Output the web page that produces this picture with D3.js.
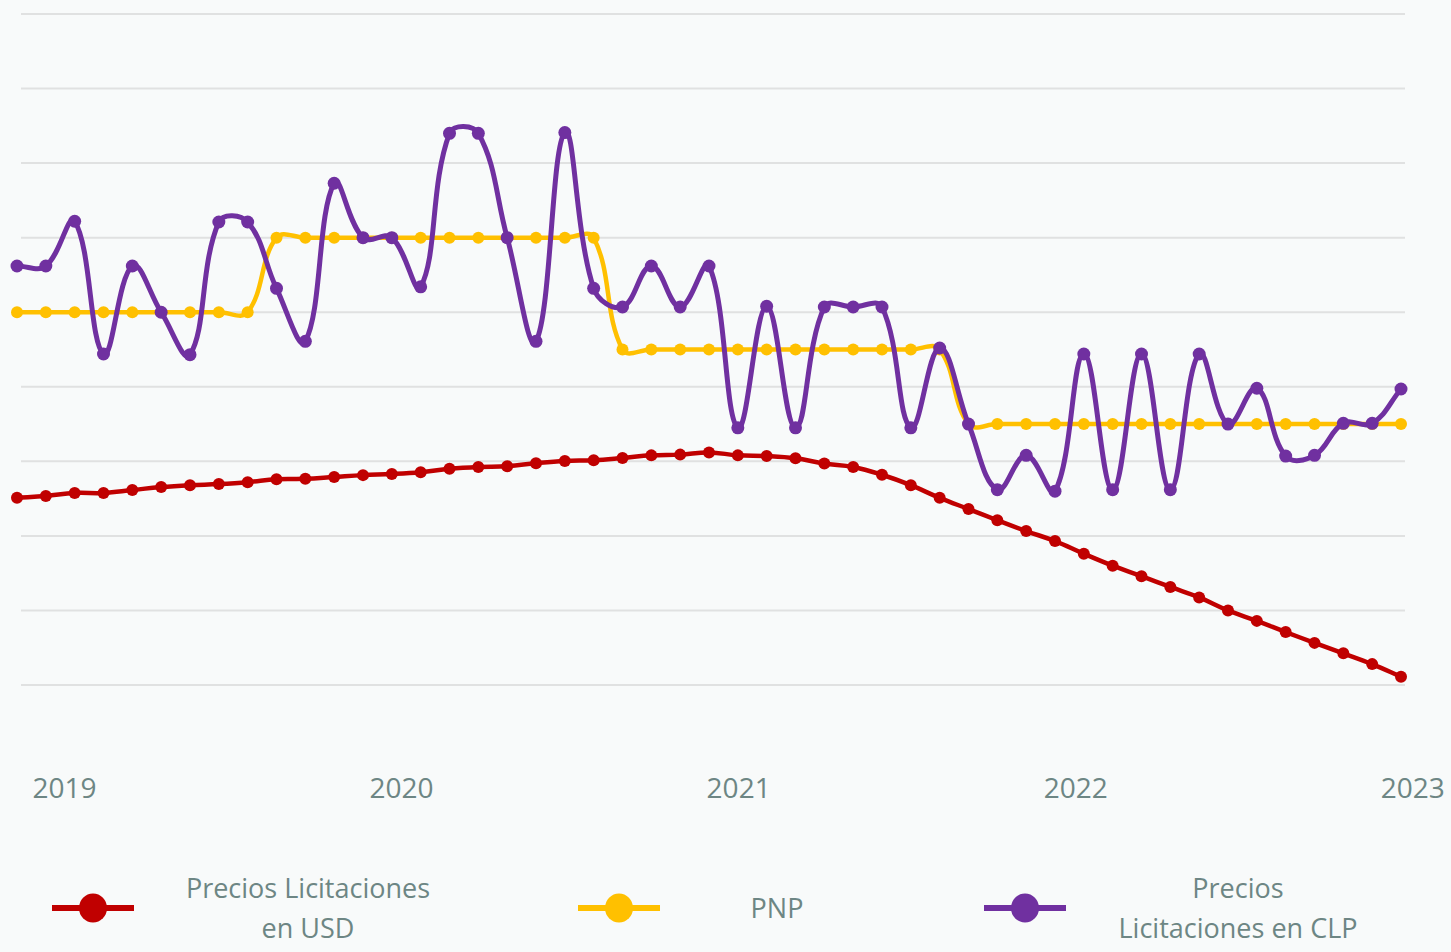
<!DOCTYPE html>
<html>
<head>
<meta charset="utf-8">
<script src="https://cdn.jsdelivr.net/npm/d3@7"></script>
<style>
  html, body { margin: 0; padding: 0; background: #f8fafa; }
  svg { display: block; }
  text { font-family: "Open Sans", sans-serif; fill: #6d8684; }
</style>
</head>
<body>
<svg id="chart" width="1451" height="952"></svg>
<script>
// ---- data ----
const yearLabels = ["2019", "2020", "2021", "2022", "2023"];
const yearPositions = [1.63, 13.32, 25.01, 36.70, 48.39]; // in month-index units

const usd = [25.1, 25.35, 25.75, 25.75, 26.15, 26.55, 26.8, 26.95, 27.2, 27.6,
  27.65, 27.9, 28.15, 28.3, 28.55, 29.0, 29.25, 29.35, 29.75, 30.05,
  30.15, 30.45, 30.8, 30.9, 31.2, 30.8, 30.7, 30.4, 29.7, 29.25,
  28.2, 26.8, 25.1, 23.6, 22.1, 20.65, 19.3, 17.6, 16.0, 14.6,
  13.15, 11.75, 10.0, 8.6, 7.1, 5.65, 4.25, 2.8, 1.1];

const pnp = [50, 50, 50, 50, 50, 50, 50, 50, 50, 60,
  60, 60, 60, 60, 60, 60, 60, 60, 60, 60,
  60, 45, 45, 45, 45, 45, 45, 45, 45, 45,
  45, 45, 45, 35, 35, 35, 35, 35, 35, 35,
  35, 35, 35, 35, 35, 35, 35, 35, 35];

const clp = [56.2, 56.2, 62.2, 44.4, 56.2, 50, 44.3, 62.1, 62.1, 53.2,
  46.1, 67.3, 60, 60, 53.4, 74, 74, 60, 46.1, 74.1,
  53.2, 50.7, 56.2, 50.7, 56.2, 34.5, 50.8, 34.5, 50.7, 50.7,
  50.7, 34.5, 45.2, 35, 26.2, 30.8, 26, 44.4, 26.2, 44.4,
  26.2, 44.4, 35, 39.8, 30.7, 30.8, 35.1, 35.1, 39.7];

const gridValues = [0, 10, 20, 30, 40, 50, 60, 70, 80, 90];

const seriesNames = [["Precios Licitaciones", "en USD"], ["PNP"], ["Precios", "Licitaciones en CLP"]];
const seriesColors = ["#c00000", "#ffc000", "#7030a0"];

// ---- custom smoothing curve (distance-weighted spline) ----
function SplineCurve(context, tension) {
  this._context = context;
  this._t = tension;
}
SplineCurve.prototype = {
  areaStart() { this._line = 0; },
  areaEnd() { this._line = NaN; },
  lineStart() { this._pts = []; },
  point(x, y) { this._pts.push([+x, +y]); },
  lineEnd() {
    const p = this._pts, n = p.length, ctx = this._context, t = this._t;
    if (!n) return;
    const cpPrev = [], cpNext = [];
    for (let i = 0; i < n; i++) {
      const cur = p[i], prev = p[i - 1] || cur, next = p[i + 1] || cur;
      const d01 = Math.hypot(cur[0] - prev[0], cur[1] - prev[1]);
      const d12 = Math.hypot(next[0] - cur[0], next[1] - cur[1]);
      let s01 = d01 / (d01 + d12), s12 = d12 / (d01 + d12);
      if (!isFinite(s01)) s01 = 0;
      if (!isFinite(s12)) s12 = 0;
      const fa = t * s01, fb = t * s12;
      cpPrev.push([cur[0] - fa * (next[0] - prev[0]), cur[1] - fa * (next[1] - prev[1])]);
      cpNext.push([cur[0] + fb * (next[0] - prev[0]), cur[1] + fb * (next[1] - prev[1])]);
    }
    ctx.moveTo(p[0][0], p[0][1]);
    for (let i = 1; i < n; i++) {
      ctx.bezierCurveTo(cpNext[i - 1][0], cpNext[i - 1][1], cpPrev[i][0], cpPrev[i][1], p[i][0], p[i][1]);
    }
  }
};
const curveSpline = tension => context => new SplineCurve(context, tension);

// ---- chart ----
const svg = d3.select("#chart");
const x = d3.scaleLinear().domain([0, usd.length - 1]).range([17, 1401]);
const y = d3.scaleLinear().domain([0, 90]).range([685, 14]);

// gridlines
svg.append("g")
  .selectAll("line")
  .data(gridValues)
  .join("line")
  .attr("x1", 21).attr("x2", 1405)
  .attr("y1", d => y(d)).attr("y2", d => y(d))
  .attr("stroke", "#e0e1e1")
  .attr("stroke-width", 2);

// x axis labels
const xAxis = d3.axisBottom(x)
  .tickValues(yearPositions)
  .tickFormat((d, i) => yearLabels[i])
  .tickSize(0)
  .tickPadding(0);
const gx = svg.append("g").attr("transform", "translate(0,778)").call(xAxis);
gx.select(".domain").remove();
gx.selectAll("text")
  .attr("dy", "0.71em")
  .style("font-family", "'Open Sans', sans-serif")
  .style("font-size", "28px")
  .attr("fill", "#6d8684");

const line = d3.line()
  .x((d, i) => x(i))
  .y(d => y(d))
  .curve(curveSpline(0.4));

const allSeries = [
  { data: usd, color: seriesColors[0], width: 4.5, r: 6 },
  { data: pnp, color: seriesColors[1], width: 4.5, r: 6 },
  { data: clp, color: seriesColors[2], width: 5, r: 6.5 }
];

allSeries.forEach(s => {
  const g = svg.append("g");
  g.append("path")
    .datum(s.data)
    .attr("d", line)
    .attr("fill", "none")
    .attr("stroke", s.color)
    .attr("stroke-width", s.width)
    .attr("stroke-linejoin", "round");
  g.selectAll("circle")
    .data(s.data)
    .join("circle")
    .attr("cx", (d, i) => x(i))
    .attr("cy", d => y(d))
    .attr("r", s.r)
    .attr("fill", s.color);
});

// legend
const legendItems = [
  { lx: 52, cx: 93, tx: 308 },
  { lx: 578, cx: 619, tx: 777 },
  { lx: 984, cx: 1025, tx: 1238 }
];
const leg = svg.append("g");
legendItems.forEach((it, i) => {
  const g = leg.append("g");
  g.append("line")
    .attr("x1", it.lx).attr("x2", it.lx + 82)
    .attr("y1", 908).attr("y2", 908)
    .attr("stroke", seriesColors[i]).attr("stroke-width", 6);
  g.append("ellipse")
    .attr("cx", it.cx).attr("cy", 908)
    .attr("rx", 14).attr("ry", 14.5)
    .attr("fill", seriesColors[i]);
  const lines = seriesNames[i];
  const baselines = lines.length === 1 ? [918] : [898, 938];
  lines.forEach((t, j) => {
    g.append("text")
      .attr("x", it.tx).attr("y", baselines[j])
      .attr("text-anchor", "middle")
      .style("font-size", "27px")
      .text(t);
  });
});
</script>
</body>
</html>
